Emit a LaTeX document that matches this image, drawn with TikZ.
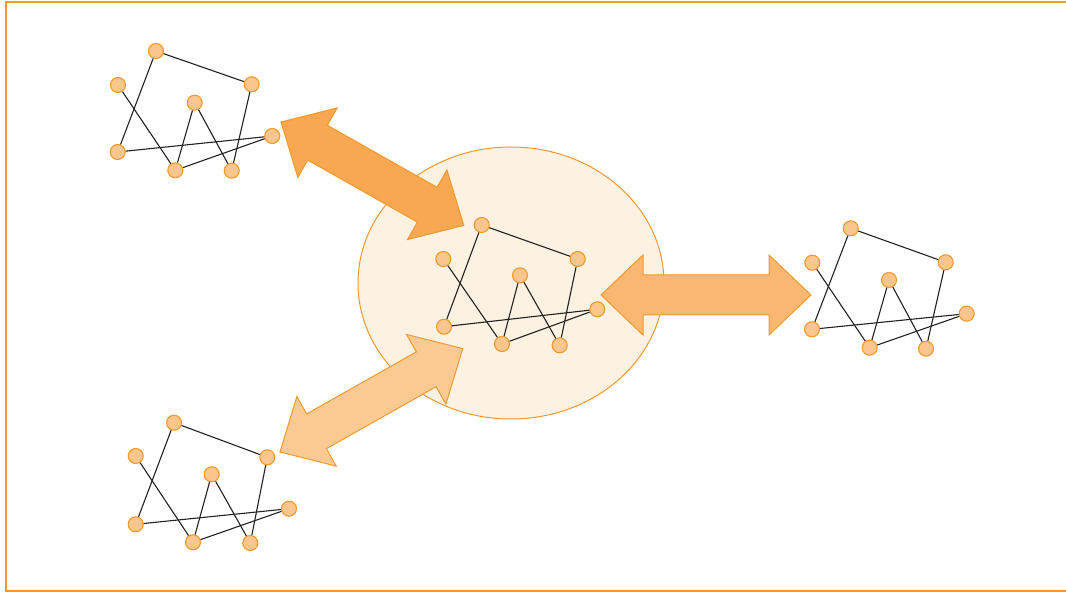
\documentclass[tikz,border=0pt]{standalone}
\usetikzlibrary{shapes.geometric}
\definecolor{nodefill}{HTML}{FBC68D}
\definecolor{orangeline}{HTML}{F29A30}
\definecolor{ellfill}{HTML}{FDF1E2}
\definecolor{arrA}{HTML}{F8A850}
\definecolor{arrB}{HTML}{F9B771}
\definecolor{arrC}{HTML}{FBCA93}
\definecolor{edgecol}{HTML}{222222}
\tikzset{
  gnode/.style={circle, fill=nodefill, draw=orangeline, line width=1.1pt, minimum size=15pt, inner sep=0pt},
  gedge/.style={draw=edgecol, line width=1.1pt},
  bigarrow/.style={draw=orangeline, line width=1pt, line join=miter},
  hubstyle/.style={ellipse, fill=ellfill, draw=orangeline, line width=1pt, minimum width=306pt, minimum height=272pt, inner sep=0pt},
  framestyle/.style={draw=orangeline, line width=1.3pt},
  dblarrow/.pic={\path[pic actions] (0,0) -- (42,40) -- (42,20) -- (168,20) -- (168,40) -- (210,0) -- (168,-40) -- (168,-20) -- (42,-20) -- (42,-40) -- cycle;}
}
\newcommand{\netgraph}[9]{%
    \node[gnode] (#1a) at (#2) {};
    \node[gnode] (#1b) at (#3) {};
    \node[gnode] (#1c) at (#4) {};
    \node[gnode] (#1d) at (#5) {};
    \node[gnode] (#1e) at (#6) {};
    \node[gnode] (#1f) at (#7) {};
    \node[gnode] (#1g) at (#8) {};
    \node[gnode] (#1h) at (#9) {};
    \draw[gedge] (#1a) -- (#1c);
    \draw[gedge] (#1a) -- (#1f);
    \draw[gedge] (#1b) -- (#1g);
    \draw[gedge] (#1c) -- (#1h);
    \draw[gedge] (#1d) -- (#1g);
    \draw[gedge] (#1d) -- (#1h);
    \draw[gedge] (#1f) -- (#1e);
    \draw[gedge] (#1g) -- (#1e);}
\begin{document}
\begin{tikzpicture}[x=1pt, y=-1pt]
  \useasboundingbox (0,0) rectangle (1066,593);
  \fill[white] (0,0) rectangle (1066,593);
  \coordinate (frtr) at (1070,2);
  \coordinate (frtl) at (6,2);
  \coordinate (frbl) at (6,591);
  \coordinate (frbr) at (1070,591);
  \draw[framestyle] (frtr) -- (frtl) -- (frbl) -- (frbr);
  \node[hubstyle] (hub) at (511,283) {};
  \netgraph{tl}{156,51}{118,85}{251.7,84.3}{194.7,102.7}{272.3,136}{117.7,152}{175.3,170.3}{231.7,170.7}
  \netgraph{c}{481.7,225}{443.3,259}{577.7,259}{520,275.3}{597.3,309.3}{444,326.7}{502,344}{559.7,345.3}
  \netgraph{r}{850.7,228.3}{812.3,262.7}{945.7,262.3}{889,280}{966.7,313.7}{812,329.3}{869.7,347.7}{926,348.7}
  \netgraph{bl}{174,422.7}{135.7,456}{267.3,457.3}{211.7,474.3}{289,508.7}{135.7,524.3}{193,542.3}{250.3,543}
  \coordinate (t1) at (281,122);
  \coordinate (t2) at (601,295);
  \coordinate (t3) at (280,452);
  \pic[rotate=-29.5, fill=arrA, bigarrow] at (t1) {dblarrow};
  \pic[fill=arrB, bigarrow] at (t2) {dblarrow};
  \pic[rotate=29.5, fill=arrC, bigarrow] at (t3) {dblarrow};
\end{tikzpicture}
\end{document}
